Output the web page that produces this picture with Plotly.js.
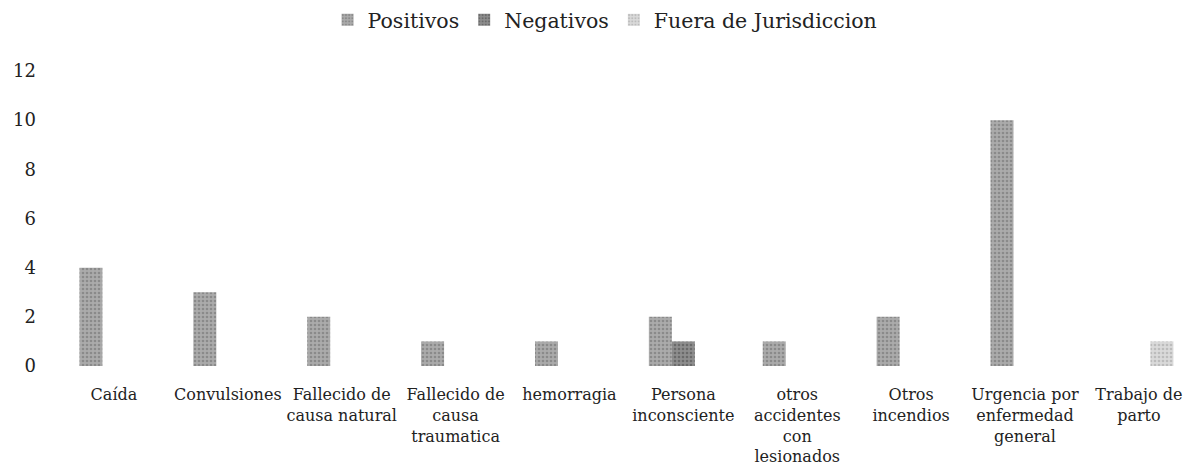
<!DOCTYPE html>
<html>
<head>
<meta charset="utf-8">
<script src="https://cdn.plot.ly/plotly-3.0.1.min.js"></script>
<style>html,body{margin:0;padding:0;background:#fff;}#chart{width:1189px;height:465px;}</style>
</head>
<body>
<div id="chart"></div>
<script>
const categories = [
  "Caída",
  "Convulsiones",
  "Fallecido de<br>causa natural",
  "Fallecido de<br>causa<br>traumatica",
  "hemorragia",
  "Persona<br>inconsciente",
  "otros<br>accidentes<br>con<br>lesionados",
  "Otros<br>incendios",
  "Urgencia por<br>enfermedad<br>general",
  "Trabajo de<br>parto"
];
const positivos = [4, 3, 2, 1, 1, 2, 1, 2, 10, 0];
const negativos = [0, 0, 0, 0, 0, 1, 0, 0, 0, 0];
const fueraJurisdiccion = [0, 0, 0, 0, 0, 0, 0, 0, 0, 1];
const yTicks = [0, 2, 4, 6, 8, 10, 12];

const serif = "DejaVu Serif, Liberation Serif, serif";
const idx = categories.map((_, i) => i);

const traces = [
  {name: "Positivos", y: positivos, color: "#ababab", fg: "#8a8a8a"},
  {name: "Negativos", y: negativos, color: "#8e8e8e", fg: "#6a6a6a"},
  {name: "Fuera de Jurisdiccion", y: fueraJurisdiccion, color: "#dadada", fg: "#bcbcbc"}
].map(s => ({
  type: "bar",
  name: s.name,
  x: idx,
  y: s.y,
  marker: {color: s.color, line: {width: 0},
           pattern: {shape: ".", fgcolor: s.fg, bgcolor: s.color, size: 4, solidity: 0.35}},
  hoverinfo: "skip"
}));

const layout = {
  width: 1189,
  height: 465,
  margin: {l: 57, r: 0, t: 71, b: 99},
  paper_bgcolor: "#fff",
  plot_bgcolor: "#fff",
  barmode: "group",
  bargap: 0.394,
  bargroupgap: 0,
  showlegend: true,
  legend: {
    orientation: "h",
    xref: "container",
    x: 0.2755, xanchor: "left",
    yref: "container",
    y: 1, yanchor: "top",
    font: {family: serif, size: 20.5, color: "#222"},
    itemwidth: 30,
    tracegroupgap: 0
  },
  xaxis: {
    range: [-0.5, 9.44],
    tickmode: "array",
    tickvals: idx,
    ticktext: categories,
    tickangle: 0,
    automargin: false,
    showgrid: false,
    zeroline: false,
    showline: false,
    ticks: "",
    ticklabelstandoff: 17,
    tickfont: {family: serif, size: 16, color: "#222"}
  },
  yaxis: {
    range: [0, 12],
    tickmode: "array",
    tickvals: yTicks,
    showgrid: false,
    zeroline: false,
    showline: false,
    ticks: "",
    ticklabelstandoff: 20,
    tickfont: {family: serif, size: 18, color: "#222"}
  }
};

Plotly.newPlot("chart", traces, layout, {displayModeBar: false, staticPlot: true});
</script>
</body>
</html>
